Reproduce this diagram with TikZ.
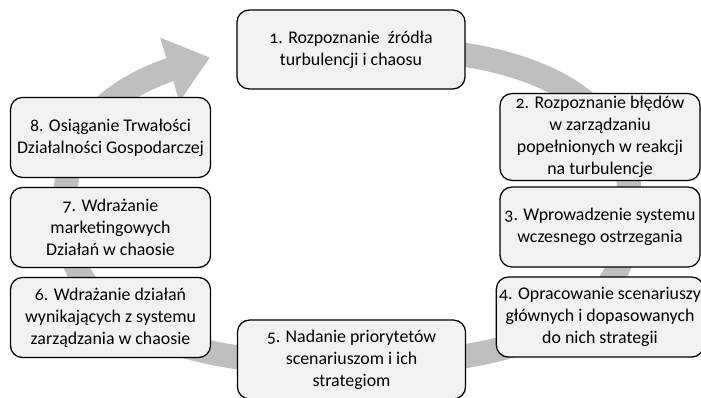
\documentclass[tikz,border=0pt]{standalone}
\usepackage{fontspec}
\setmainfont{Carlito}[Numbers=OldStyle]
\usepackage{xcolor}
\usepackage{tikz}
\usetikzlibrary{arrows.meta}

\definecolor{ringgray}{HTML}{BFBFBF}
\definecolor{boxgray}{HTML}{F2F2F2}

\begin{document}
\begin{tikzpicture}[x=0.025cm, y=-0.025cm, node distance=2.25cm, thick,
        declare function={sx(\t)=sign(cos(\t))*pow(abs(cos(\t))+0.00001,0.8);
                          sy(\t)=sign(sin(\t))*pow(abs(sin(\t))+0.00001,0.8);}]
        % Define styles
        \tikzstyle{stepbox} = [rectangle, draw, line width=0.9pt, fill=boxgray, align=center, rounded corners=0.3cm, minimum width=5cm, minimum height=2cm, inner sep=2pt, font=\fontsize{12.7}{15.6}\selectfont]
        \tikzstyle{widebox} = [stepbox, minimum width=5.7cm, minimum height=1.97cm]
        \tikzstyle{ring} = [-{Triangle[length=1.05cm, width=1.6cm]}, line width=0.6cm, draw=ringgray, color=ringgray]

        \useasboundingbox (0,0) rectangle (701,398);

        % Cycle arrow
        \coordinate (tip) at (210,57.5);
        \draw [ring] plot[domain=0:331, samples=332] ({347.5+282*sx(95-\x)}, {205.5-158*sy(95-\x)}) -- (tip);

        % Nodes
        \node (step1) [widebox] at (351,49.5) {1. Rozpoznanie\ \ źródła\\turbulencji i chaosu};

        \node (step2) [stepbox] at (600,137) {2. Rozpoznanie błędów\\w zarządzaniu\\popełnionych w reakcji\\na turbulencje};
        \node (step3) [stepbox, below of=step2] {3. Wprowadzenie systemu\\wczesnego ostrzegania};
        \node (step4) [stepbox, below of=step3] {4. Opracowanie scenariuszy\\głównych i dopasowanych\\do nich strategii};

        \node (step5) [widebox] at (351.5,359.5) {5. Nadanie priorytetów\\scenariuszom i ich\\strategiom};

        \node (step6) [stepbox] at (110.5,317.5) {6. Wdrażanie działań\\wynikających z systemu\\zarządzania w chaosie};
        \node (step7) [stepbox, above of=step6] {7. Wdrażanie\\marketingowych\\Działań w chaosie};
        \node (step8) [stepbox, above of=step7] {8. Osiąganie Trwałości\\Działalności Gospodarczej};

    \end{tikzpicture}
\end{document}
